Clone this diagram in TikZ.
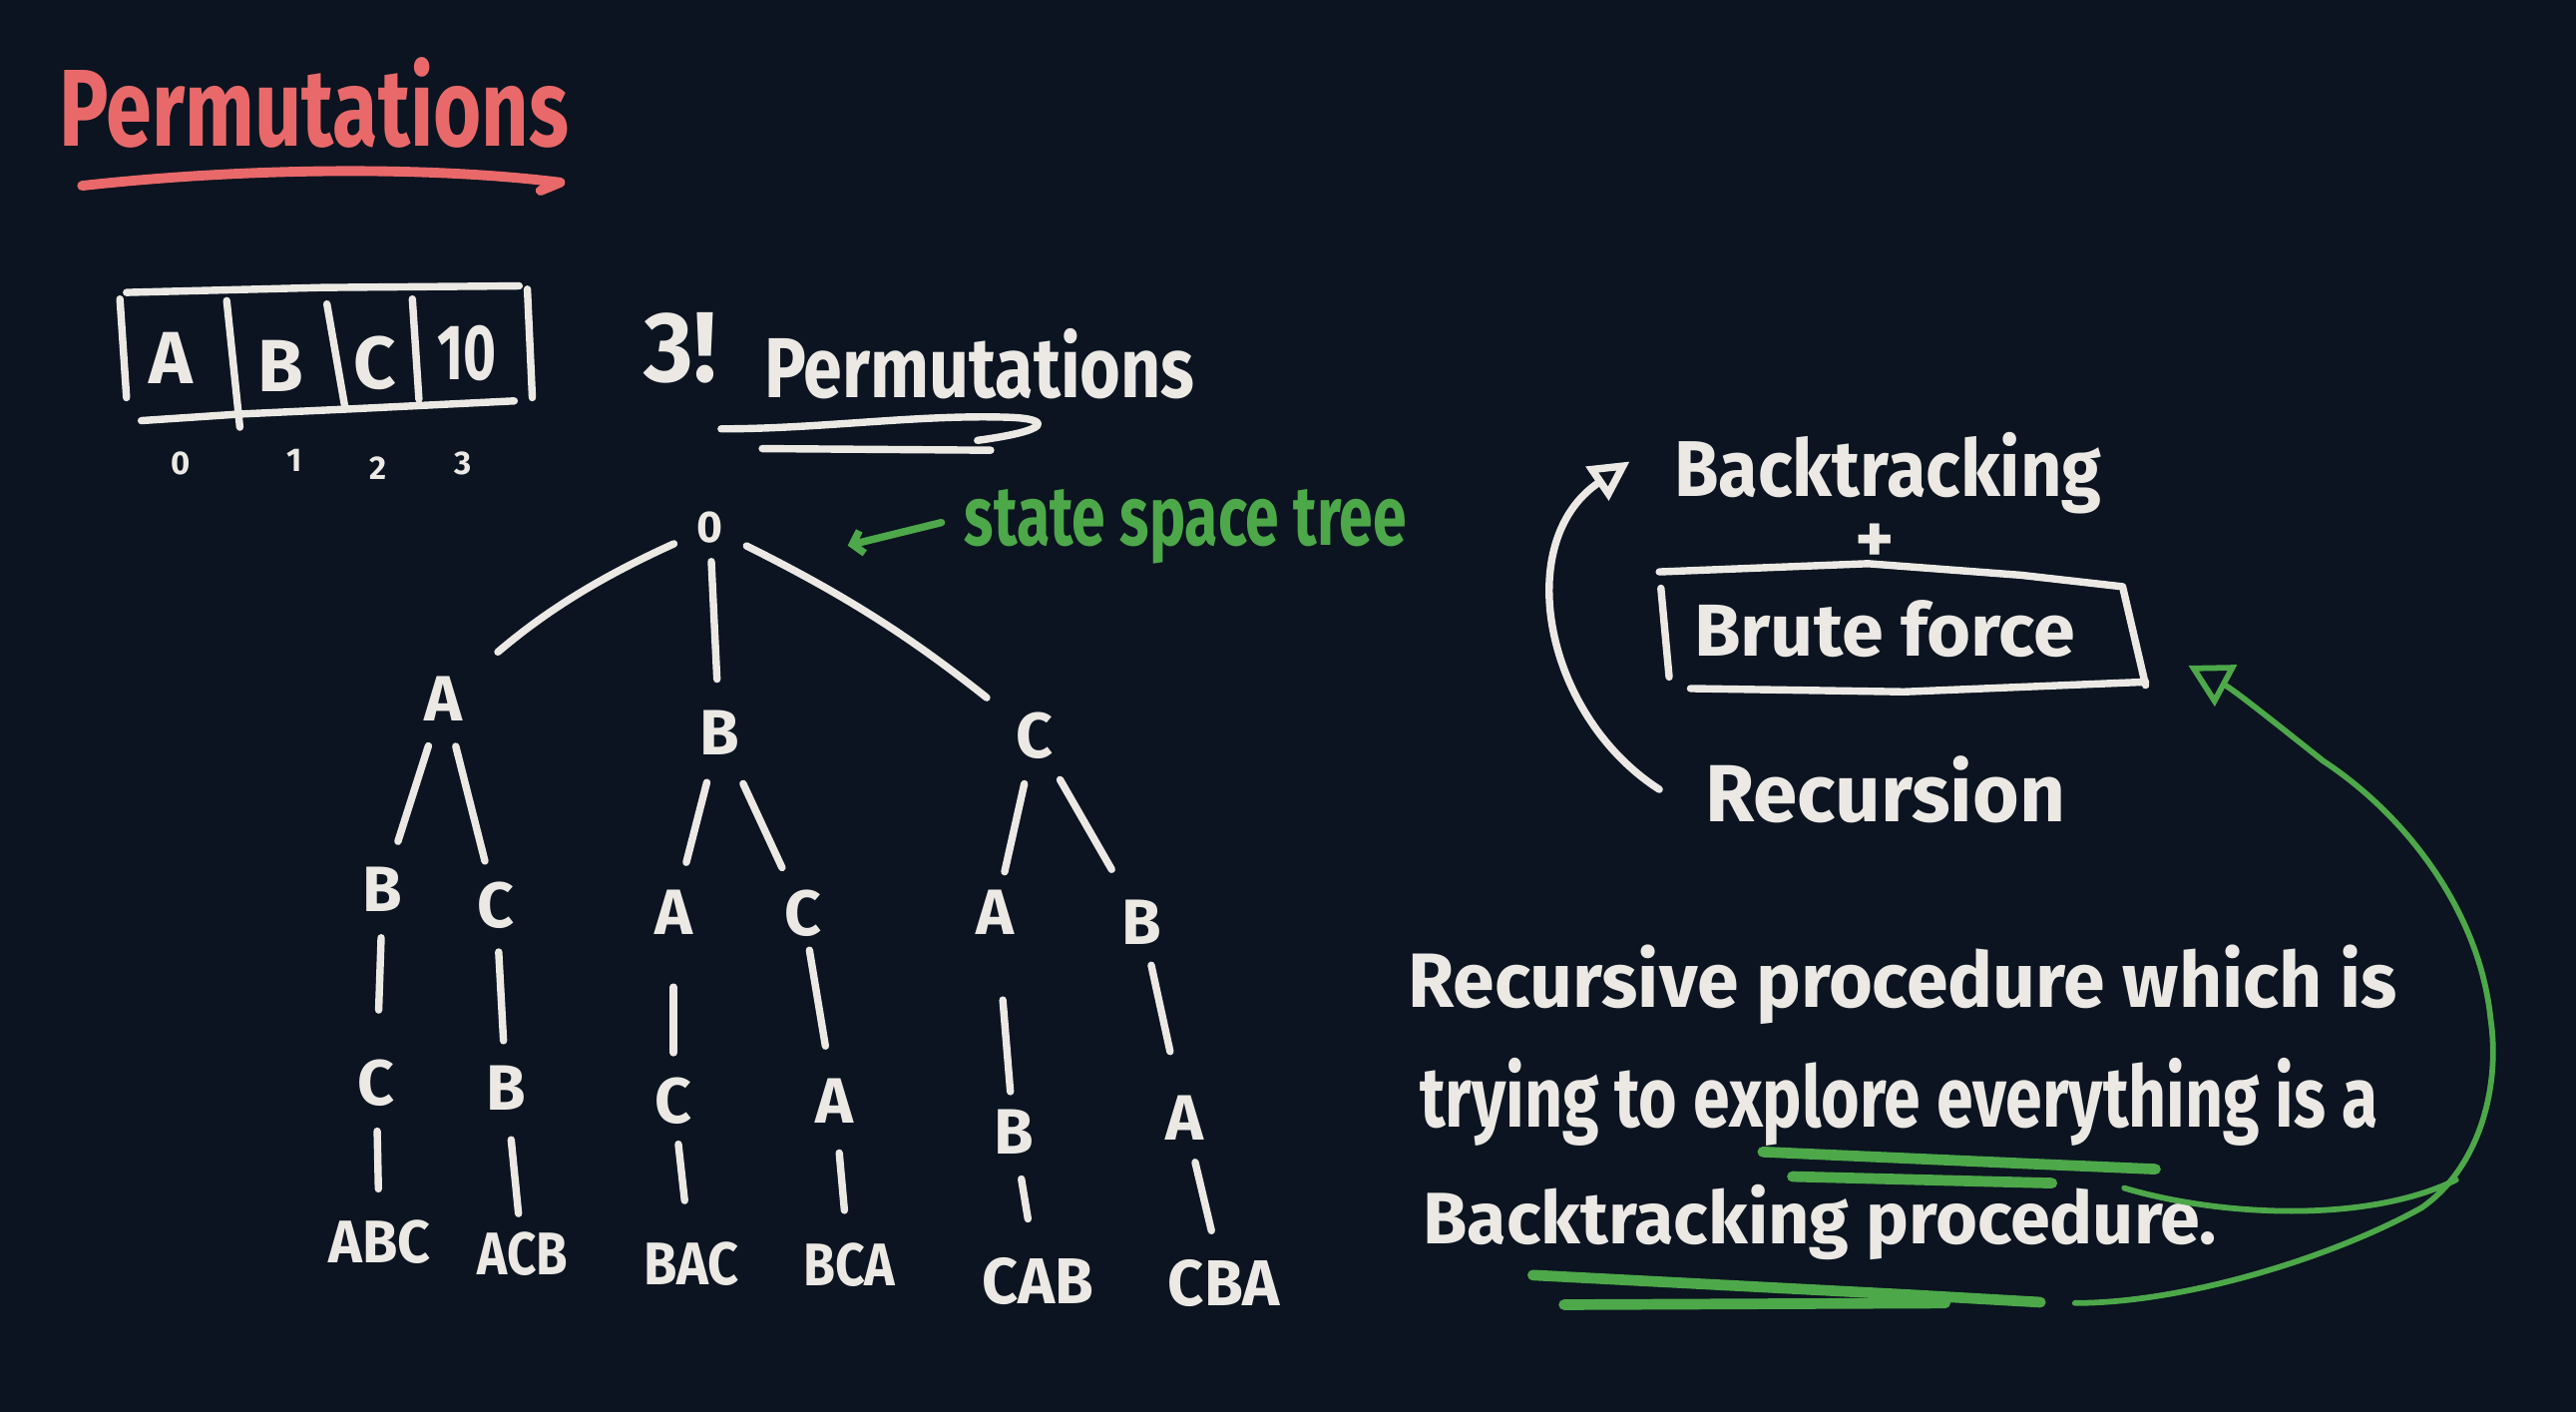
\documentclass[tikz,border=0pt]{standalone}
\usepackage{fontspec}
\setmainfont{Fira Sans}
\usetikzlibrary{arrows.meta}
\definecolor{bgc}{HTML}{0B1420}
\definecolor{inkc}{HTML}{ECE9E5}
\definecolor{grnc}{HTML}{4DA84A}
\definecolor{redc}{HTML}{E9696A}
\newcommand\hw[3]{\resizebox{#1pt}{#2pt}{#3}}
\begin{document}
\begin{tikzpicture}[x=1pt,y=-1pt,
  ink/.style={draw=inkc, line width=4.5pt, line cap=round, line join=round},
  gline/.style={draw=grnc, line width=6.5pt, line cap=round, line join=round},
  txt/.style={inner sep=0pt, text=inkc, anchor=base west, font=\bfseries},
  lt/.style={inner sep=0pt, text=inkc, font=\fontsize{39}{40}\selectfont\bfseries},
  leaf/.style={inner sep=0pt, text=inkc, font=\bfseries},
  cell/.style={inner sep=0pt, text=inkc, font=\fontsize{45}{46}\selectfont\bfseries},
  idx/.style={inner sep=0pt, text=inkc, font=\fontsize{20}{21}\selectfont\bfseries},
  tedge/.style={ink, shorten <=16pt, shorten >=18pt}]
\fill[bgc] (0,0) rectangle (1568,859);
\useasboundingbox (0,0) rectangle (1568,859);

% title
\node[txt, text=redc] (title) at (36,89) {\hw{310}{54}{Permutations}};
\draw[draw=redc, line width=6pt, line cap=round, line join=round]
  (50,113) .. controls (150,102) and (260,101) .. (341,111) -- (329,116);

% array
\draw[ink] (77,178) -- (196,175) -- (316,174);
\draw[ink] (73,182) -- (77,242);
\draw[ink] (321,176) -- (324,242);
\draw[ink] (86,256) -- (146,252) -- (211,249) -- (313,244);
\draw[ink] (138,183) -- (146,260);
\draw[ink] (199,185) -- (210,248);
\draw[ink] (251,182) -- (255,243);
\node[cell] (cA) at (104,218) {A};
\node[cell] (cB) at (171,223) {B};
\node[cell] (cC) at (228,221) {C};
\node[cell] (c10) at (284,215) {\hw{36}{33}{10}};
\node[idx] (i0) at (110,282) {0};
\node[idx] (i1) at (179,280) {1};
\node[idx] (i2) at (230,285) {2};
\node[idx] (i3) at (282,282) {3};

% 3! Permutations
\node[txt] (three) at (392,232) {\hw{44}{42}{3!}};
\node[txt] (perm2) at (465,242) {\hw{262}{42}{Permutations}};
\draw[ink] (439,261) .. controls (500,261) and (560,252) .. (615,254)
  .. controls (640,255) and (640,262) .. (595,268);
\draw[ink] (464,273) -- (603,274);

% state space tree label
\coordinate (ga1) at (573,318);
\coordinate (ga2) at (516,332);
\draw[draw=grnc, line width=4.5pt, line cap=round, -{Straight Barb[length=6pt,width=14pt]}] (ga1) -- (ga2);
\node[txt, text=grnc] (sst) at (587,332) {\hw{269}{34}{state space tree}};

% tree
\node[lt, font=\fontsize{27}{28}\selectfont\bfseries] (r) at (432,321) {0};
\node[lt] (A1) at (270,425) {A};
\node[lt] (B1) at (438,446) {B};
\node[lt] (C1) at (630,448) {C};
\node[lt] (AB) at (233,541) {B};
\node[lt] (AC) at (302,551) {C};
\node[lt] (BA) at (410,555) {A};
\node[lt] (BC) at (489,556) {C};
\node[lt] (CA) at (606,555) {A};
\node[lt] (CB) at (695,561) {B};
\node[lt] (ABC3) at (229,659) {C};
\node[lt] (ACB3) at (308,662) {B};
\node[lt] (BAC3) at (410,670) {C};
\node[lt] (BCA3) at (508,670) {A};
\node[lt] (CAB3) at (617,689) {B};
\node[lt] (CBA3) at (721,680) {A};
\node[leaf] (lABC) at (231,756) {\hw{62}{26}{ABC}};
\node[leaf] (lACB) at (318,763) {\hw{55}{26}{ACB}};
\node[leaf] (lBAC) at (421,769) {\hw{58}{26}{BAC}};
\node[leaf] (lBCA) at (517,770) {\hw{56}{26}{BCA}};
\node[leaf] (lCAB) at (632,780) {\hw{68}{28}{CAB}};
\node[leaf] (lCBA) at (745,781) {\hw{68}{28}{CBA}};

\draw[ink, shorten <=15pt, shorten >=28pt] (r) to[bend right=8] (A1);
\draw[ink, shorten <=11pt, shorten >=19pt] (r) -- (B1);
\draw[ink, shorten <=16pt, shorten >=23pt] (r) to[bend left=6] (C1);
\draw[tedge, shorten <=16pt, shorten >=16pt] (A1) -- (AB);
\draw[tedge, shorten <=16pt, shorten >=13pt] (A1) -- (AC);
\draw[tedge, shorten <=17pt, shorten >=17pt] (B1) -- (BA);
\draw[tedge, shorten <=19pt, shorten >=15pt] (B1) -- (BC);
\draw[tedge, shorten <=15pt, shorten >=11pt] (C1) -- (CA);
\draw[tedge, shorten <=14pt, shorten >=21pt] (C1) -- (CB);
\draw[tedge, shorten <=16pt, shorten >=30pt] (AB) -- (ABC3);
\draw[tedge, shorten <=14pt, shorten >=15pt] (AC) -- (ACB3);
\draw[tedge, shorten <=32pt, shorten >=15pt] (BA) -- (BAC3);
\draw[tedge, shorten <=8pt, shorten >=20pt] (BC) -- (BCA3);
\draw[tedge, shorten <=40pt, shorten >=11pt] (CA) -- (CAB3);
\draw[tedge, shorten <=13pt, shorten >=27pt] (CB) -- (CBA3);
\draw[tedge, shorten <=15pt, shorten >=19pt] (ABC3) -- (lABC);
\draw[tedge, shorten <=18pt, shorten >=11pt] (ACB3) -- (lACB);
\draw[tedge, shorten <=12pt, shorten >=25pt] (BAC3) -- (lBAC);
\draw[tedge, shorten <=18pt, shorten >=20pt] (BCA3) -- (lBCA);
\draw[tedge, shorten <=15pt, shorten >=24pt] (CAB3) -- (lCAB);
\draw[tedge, shorten <=14pt, shorten >=18pt] (CBA3) -- (lCBA);

% right side
\node[txt] (bt) at (1019,302) {\hw{260}{39}{Backtracking}};
\node[inner sep=0pt, text=inkc, font=\bfseries] (plus) at (1141,331) {\hw{24}{24}{+}};
\node[txt] (bf) at (1031,399) {\hw{232}{34}{Brute force}};
\node[txt] (rec) at (1038,500) {\hw{219}{40}{Recursion}};
\draw[ink] (1010,348) -- (1137,343) -- (1230,350) -- (1292,357) -- (1306,417);
\draw[ink] (1029,419) -- (1159,421) -- (1306,415);
\draw[ink] (1011,358) -- (1016,412);
\draw[ink, -{Triangle[open,length=24pt,width=24pt]}]
  ([xshift=-28pt]rec.west) .. controls +(-70,-45) and +(-72,49) .. ([xshift=-27pt,yshift=7pt]bt.west);

% paragraph
\node[txt] (p1) at (857,613) {\hw{602}{38}{Recursive procedure which is}};
\node[txt] (p2) at (864,686) {\hw{583}{42}{trying to explore everything is a}};
\node[txt] (p3) at (866,757) {\hw{483}{36}{Backtracking procedure.}};

% green underlines
\draw[gline] (1073,701) -- (1242,708.5) -- (1312,711.5);
\draw[gline] (1091,716) -- (1249,720);
\draw[gline] (933,776) -- (1163,788) -- (1242,792.5);
\draw[gline] (952,794) -- (1184,793);

% green connector
\coordinate (gstart) at (1263,793);
\coordinate (gtip) at (1332,405);
\coordinate (gbranch) at (1293,723);
\draw[draw=grnc, line width=3.5pt, line cap=round, line join=round]
  (gbranch) .. controls (1350,740) and (1440,745) .. (1495,718);
\draw[draw=grnc, line width=3.5pt, line cap=round, line join=round,
      -{Triangle[open,length=26pt,width=28pt]}]
  (gstart) .. controls (1330,793) and (1420,765) .. (1474,735)
  .. controls (1510,710) and (1522,660) .. (1516,620)
  .. controls (1510,560) and (1470,500) .. (1414,463)
  .. controls (1385,440) and (1360,420) .. (gtip);
\end{tikzpicture}
\end{document}
